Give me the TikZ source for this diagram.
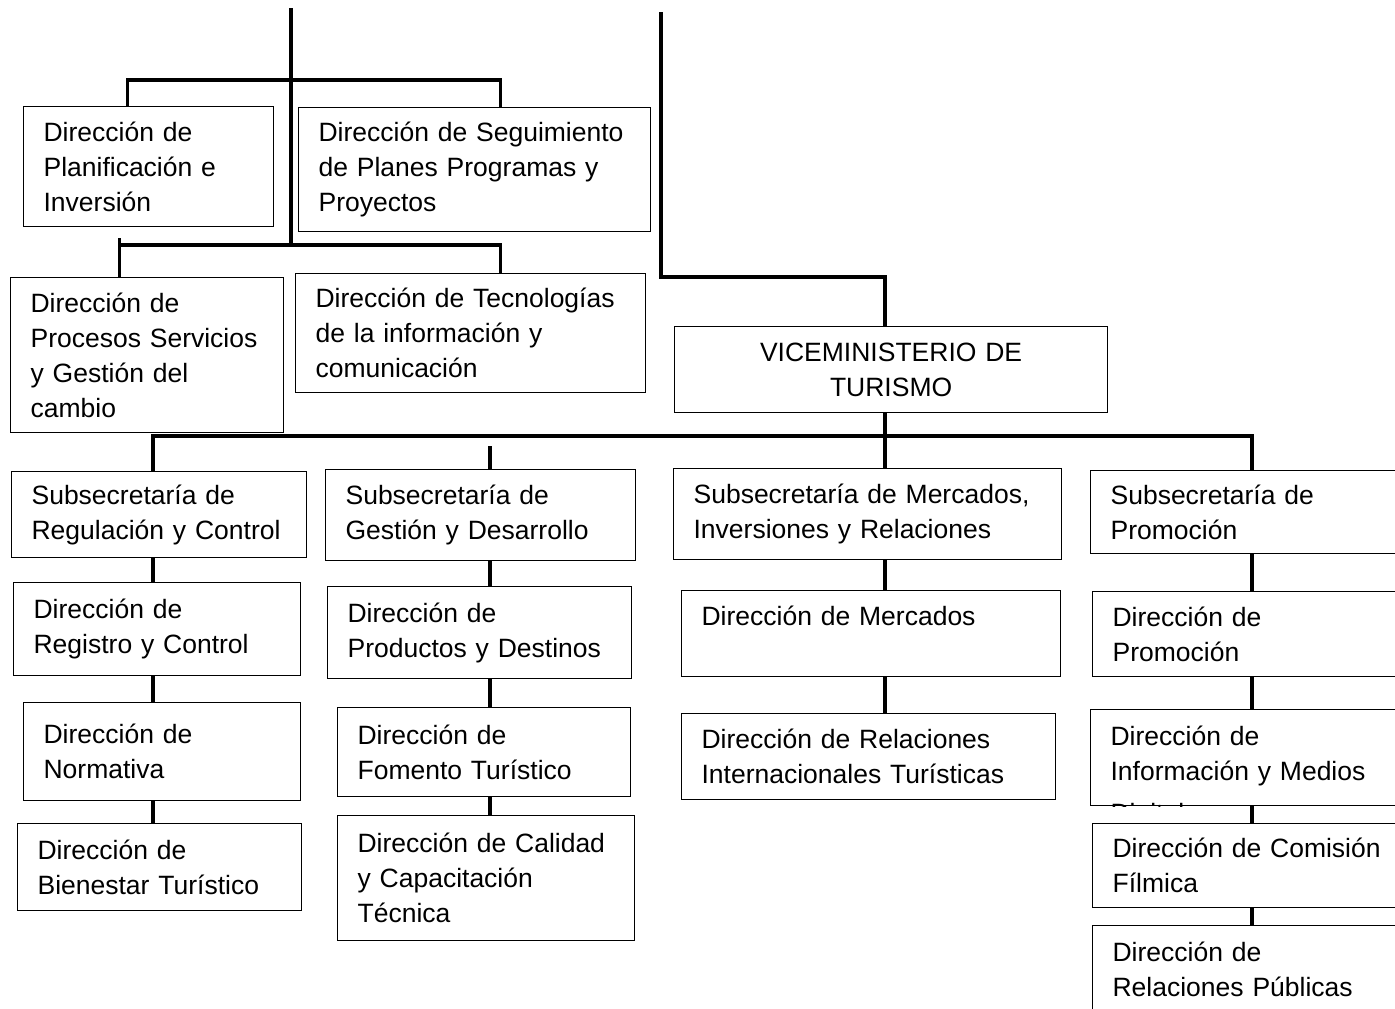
\documentclass[tikz,border=0pt]{standalone}
\usepackage{fontspec}
\setmainfont{Liberation Sans}
\usepackage{tikz}
\usetikzlibrary{calc}
\newcommand{\orgfont}{\fontsize{26.5}{35}\selectfont}

\begin{document}
\begin{tikzpicture}[
        x=1pt, y=-1pt,
        box/.style={draw, line width=1.2pt, anchor=north west, align=left, inner xsep=20pt, inner ysep=4pt, font=\orgfont},
        conn/.style={line width=3.5pt}
        ]
        \useasboundingbox (0,0) rectangle (1395,1009);
        \clip (0,0) rectangle (1395,1009);

        % Nodes
        \node[box, text width=210pt, minimum height=120pt] (dplan) at (23,106) {Dirección de\\Planificación e\\Inversión};
        \node[box, text width=312pt, minimum height=124pt] (dseg) at (298,107) {Dirección de Seguimiento\\de Planes Programas y\\Proyectos};
        \node[box, text width=233pt, minimum height=155pt] (dproc) at (10,277) {Dirección de\\Procesos Servicios\\y Gestión del\\cambio};
        \node[box, text width=310pt, minimum height=119pt] (dtec) at (295,273) {Dirección de Tecnologías\\de la información y\\comunicación};
        \node[box, align=center, text width=393pt, minimum height=86pt] (vice) at (674,326) {VICEMINISTERIO DE\\TURISMO};

        \node[box, text width=255pt, minimum height=86pt] (subreg) at (11,471) {Subsecretaría de\\Regulación y Control};
        \node[box, text width=270pt, minimum height=91pt] (subges) at (325,469) {Subsecretaría de\\Gestión y Desarrollo};
        \node[box, text width=348pt, minimum height=91pt] (submer) at (673,468) {Subsecretaría de Mercados,\\Inversiones y Relaciones};
        \node[box, text width=284pt, minimum height=83pt] (subprom) at (1090,470) {Subsecretaría de\\Promoción};

        \node[box, text width=247pt, minimum height=93pt] (dreg) at (13,582) {Dirección de\\Registro y Control};
        \node[box, text width=237pt, minimum height=98pt] (dnorm) at (23,702) {Dirección de\\Normativa};
        \node[box, text width=244pt, minimum height=87pt] (dbien) at (17,823) {Dirección de\\Bienestar Turístico};

        \node[box, text width=264pt, minimum height=92pt] (dprod) at (327,586) {Dirección de\\Productos y Destinos};
        \node[box, text width=253pt, minimum height=89pt] (dfom) at (337,707) {Dirección de\\Fomento Turístico};
        \node[box, text width=257pt, minimum height=125pt] (dcal) at (337,815) {Dirección de Calidad\\y Capacitación\\Técnica};

        \node[box, text width=339pt, minimum height=86pt] (dmerc) at (681,590) {Dirección de Mercados\\~};
        \node[box, text width=334pt, minimum height=86pt] (drelint) at (681,713) {Dirección de Relaciones\\Internacionales Turísticas};

        \node[box, text width=280pt, minimum height=85pt] (dprom) at (1092,591) {Dirección de\\Promoción};
        \node[box, text width=284pt, minimum height=96pt] (dinfo) at (1090,709) {};
        \begin{scope}
            \clip (dinfo.north west) rectangle (dinfo.south east);
            \node[box, draw=none, text width=284pt, inner ysep=16pt] at (dinfo.north west) {Dirección de\\Información y Medios\\[7pt]Digitales};
        \end{scope}
        \node[box, text width=280pt, minimum height=84pt] (dcom) at (1092,823) {Dirección de Comisión\\Fílmica};
        \node[box, text width=280pt, minimum height=88pt] (drelpub) at (1092,925) {Dirección de\\Relaciones Públicas};

        % Lines
        \coordinate (top1) at (291,8);
        \coordinate (top2) at (661,12);
        \coordinate (bar1) at (291,80);
        \coordinate (bar2) at (291,245);
        \coordinate (vbar) at (885,277);
        \coordinate (c1) at (153,436);
        \coordinate (c2) at (490,436);
        \coordinate (c3) at (885,436);
        \coordinate (c4) at (1252,436);

        \draw[conn] (top1) -- (bar2);
        \draw[conn] ([xshift=-21pt]dplan.north) |- (bar1) -| ([xshift=26pt]dseg.north);
        \draw[conn] ([xshift=-27.5pt]dproc.north) -- ++(0,-39);
        \draw[conn] ([xshift=-27.5pt]dproc.north) |- (bar2) -| ([xshift=30pt]dtec.north);
        \draw[conn] (top2) -- (top2 |- vbar) -- (vbar) -- (vice.north -| vbar);
        \draw[conn] (vice.south -| c3) -- (submer.north -| c3);
        \draw[conn] (subreg.north -| c1) -- (c1) -- (c4) -- (subprom.north -| c4);
        \draw[conn, shorten >=10pt] (subges.north -| c2) -- (c2);
        \foreach \a/\b/\c in {subreg/dreg/c1, dreg/dnorm/c1, dnorm/dbien/c1,
                              subges/dprod/c2, dprod/dfom/c2, dfom/dcal/c2,
                              submer/dmerc/c3, dmerc/drelint/c3,
                              subprom/dprom/c4, dprom/dinfo/c4, dinfo/dcom/c4, dcom/drelpub/c4}
            \draw[conn] (\a.south -| \c) -- (\b.north -| \c);

\end{tikzpicture}
\end{document}
